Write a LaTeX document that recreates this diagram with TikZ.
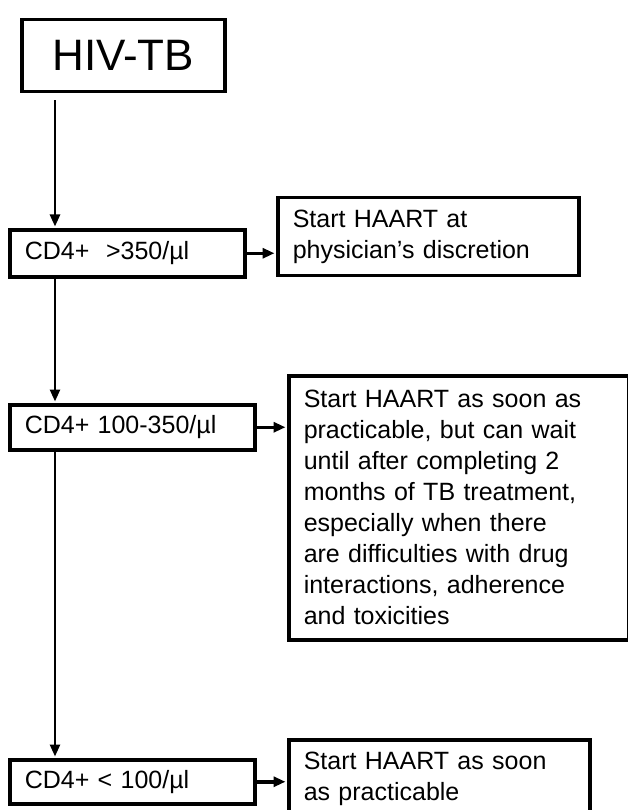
\documentclass[tikz,border=0pt]{standalone}
\usepackage{fontspec}
\setmainfont{Liberation Sans}
\usetikzlibrary{positioning, calc, arrows.meta}

\tikzset{
  box/.style={draw, line width=3.5pt, inner xsep=15pt, inner ysep=12pt,
    anchor=north west, align=left, font=\fontsize{25}{31}\selectfont},
  cdbox/.style={box, inner ysep=0pt},
  down/.style={line width=2.5pt, -{Triangle[length=12pt, width=10pt]},
    shorten >=1.5pt},
  across/.style={line width=3.5pt, -{Triangle[length=12pt, width=10pt]},
    shorten >=1.5pt},
}

\begin{document}
\begin{tikzpicture}[x=1pt, y=-1pt]
    \def\stemx{55}

    \useasboundingbox (0, 0) rectangle (628, 810);

    % Start
    \node[box, align=center, inner sep=0pt, minimum width=203pt,
      minimum height=72pt, font=\fontsize{44}{44}\selectfont]
      (hiv) at (20, 18) {HIV-TB};

    % CD4+ counts
    \node[cdbox, text width=205pt, minimum height=47pt]
      (cdA) at (8, 228) {CD4+\ \ >350/µl};

    \node[cdbox, text width=215pt, minimum height=45pt]
      (cdB) at (8, 403) {CD4+ 100-350/µl};

    \node[cdbox, text width=215pt, minimum height=44pt]
      (cdC) at (8, 758) {CD4+ < 100/µl};

    % What to do
    \node[box, text width=271pt, minimum height=77pt]
      (resA) at (276, 196) {Start HAART at\\physician’s discretion};

    \node[box, text width=310pt, minimum height=264pt]
      (resB) at (287, 374) {Start HAART as soon as\\
        practicable, but can wait\\
        until after completing 2\\
        months of TB treatment,\\
        especially when there\\
        are difficulties with drug\\
        interactions, adherence\\
        and toxicities};

    \node[box, text width=271pt]
      (resC) at (287, 738) {Start HAART as soon\\as practicable};

    % The stem
    \coordinate (stem) at (\stemx, 0);
    \draw[down, shorten <=7pt] (stem |- hiv.south) -- (stem |- cdA.north);
    \draw[down] (stem |- cdA.south) -- (stem |- cdB.north);
    \draw[down] (stem |- cdB.south) -- (stem |- cdC.north);

    % The branches
    \draw[across] (cdA.east) -- (cdA.east -| resA.west);
    \draw[across] (cdB.east) -- (cdB.east -| resB.west);
    \draw[across] (cdC.east) -- (cdC.east -| resC.west);
\end{tikzpicture}
\end{document}
